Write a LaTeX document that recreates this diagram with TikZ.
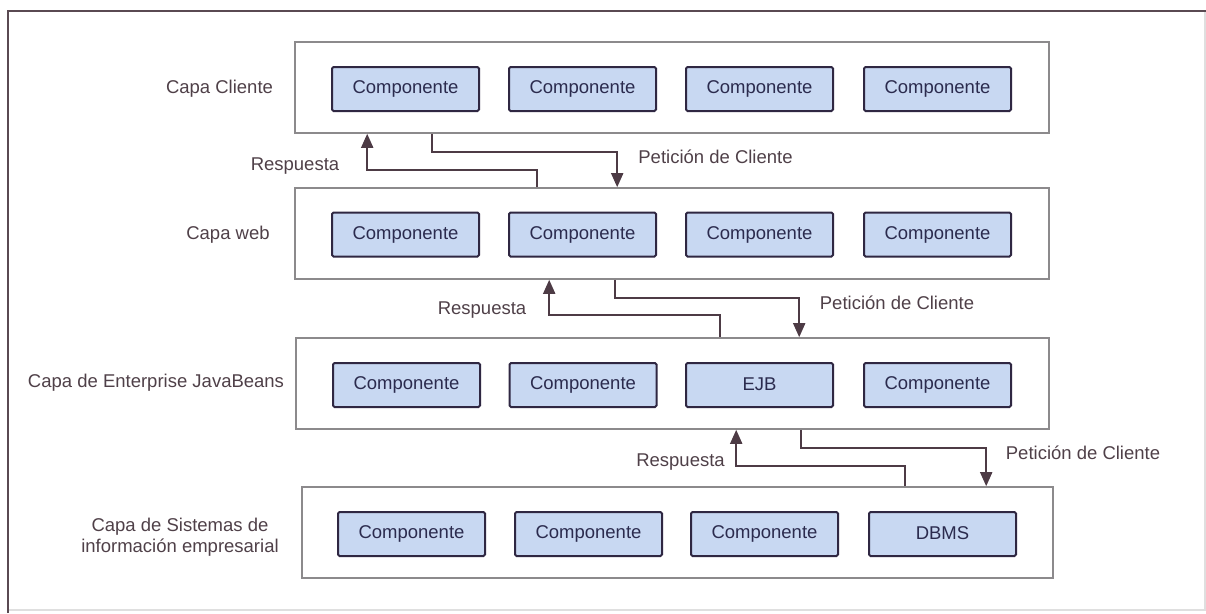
\documentclass[tikz,border=0pt]{standalone}
\usepackage{fontspec}
\setmainfont{Liberation Sans}
\usetikzlibrary{arrows.meta}
\definecolor{framec}{HTML}{5A4A52}
\definecolor{layerc}{HTML}{8C8A8C}
\definecolor{compfill}{HTML}{C8D8F2}
\definecolor{compdraw}{HTML}{2F2742}
\definecolor{comptext}{HTML}{2B2B4E}
\definecolor{labeltext}{HTML}{4F4048}
\definecolor{arrowc}{HTML}{4D3B45}
\tikzset{
  layerbox/.style={draw=layerc, line width=1.6pt, fill=white, inner sep=0pt,
    minimum height=91pt},
  comp/.style={draw=compdraw, line width=2pt, fill=compfill, rounded corners=1.5pt,
    inner sep=0pt, minimum width=147pt, minimum height=44pt,
    text=comptext, font=\fontsize{18.5}{22}\selectfont},
  lbl/.style={text=labeltext, inner sep=0pt, font=\fontsize{18.5}{22}\selectfont},
  flow/.style={draw=arrowc, line width=1.8pt,
    -{Triangle[width=12pt,length=14pt]}},
}
\begin{document}
\begin{tikzpicture}[x=1pt,y=-1pt]
\useasboundingbox (0,0) rectangle (1206,613);
% outer frame
\draw[gray!25, line width=1.2pt] (1205,11) -- (1205,610) -- (8,610);
\draw[framec, line width=2pt] (8,613) -- (8,11) -- (1206,11);

% layer boxes
\node[layerbox, minimum width=754pt] (L1) at (672,87.5) {};
\node[layerbox, minimum width=754pt] (L2) at (672,233.5) {};
\node[layerbox, minimum width=753pt] (L3) at (672.5,383.5) {};
\node[layerbox, minimum width=751pt] (L4) at (677.5,532.5) {};

% layer names
\node[lbl] (n1) at (219.5,89) {Capa Cliente};
\node[lbl] (n2) at (228,235) {Capa web};
\node[lbl] (n3) at (156,383) {Capa de Enterprise JavaBeans};
\node[lbl, align=center] (n4) at (180,537) {Capa de Sistemas de\\[-1pt]información empresarial};

% components
\node[comp] (c11) at (405.5,89) {Componente};
\node[comp] (c12) at (582.5,89) {Componente};
\node[comp] (c13) at (759.5,89) {Componente};
\node[comp] (c14) at (937.5,89) {\raisebox{3pt}{Componente}};

\node[comp] (c21) at (405.5,234.5) {Componente};
\node[comp] (c22) at (582.5,234.5) {Componente};
\node[comp] (c23) at (759.5,234.5) {Componente};
\node[comp] (c24) at (937.5,234.5) {\raisebox{2pt}{Componente}};

\node[comp] (c31) at (406.5,385) {Componente};
\node[comp] (c32) at (583,385) {Componente};
\node[comp] (c33) at (759.5,385) {\raisebox{2pt}{EJB}};
\node[comp] (c34) at (937.5,385) {Componente};

\node[comp] (c41) at (411.5,534) {Componente};
\node[comp] (c42) at (588.5,534) {Componente};
\node[comp] (c43) at (764.5,534) {Componente};
\node[comp] (c44) at (942.5,534) {\raisebox{2pt}{DBMS}};

% requests (downwards) and responses (upwards)
\draw[flow] ([xshift=138pt]L1.south west) -- ++(0pt,-18pt) -| ([xshift=323pt]L2.north west);
\draw[flow] ([xshift=243pt]L2.north west) -- ++(0pt,17pt) -| ([xshift=73pt]L1.south west);

\draw[flow] ([xshift=321pt]L2.south west) -- ++(0pt,-18pt) -| ([xshift=504pt]L3.north west);
\draw[flow] ([xshift=425pt]L3.north west) -- ++(0pt,22pt) -| ([xshift=255pt]L2.south west);

\draw[flow] ([xshift=506pt]L3.south west) -- ++(0pt,-18pt) -| ([xshift=685pt]L4.north west);
\draw[flow] ([xshift=604pt]L4.north west) -- ++(0pt,20pt) -| ([xshift=441pt]L3.south west);

% flow labels
\node[lbl] (r1) at (295,166) {Respuesta};
\node[lbl] (p1) at (715.5,157) {Petición de Cliente};
\node[lbl] (r2) at (482,310) {Respuesta};
\node[lbl] (p2) at (897,303) {Petición de Cliente};
\node[lbl] (r3) at (680.5,462) {Respuesta};
\node[lbl] (p3) at (1083,453) {Petición de Cliente};
\end{tikzpicture}
\end{document}
